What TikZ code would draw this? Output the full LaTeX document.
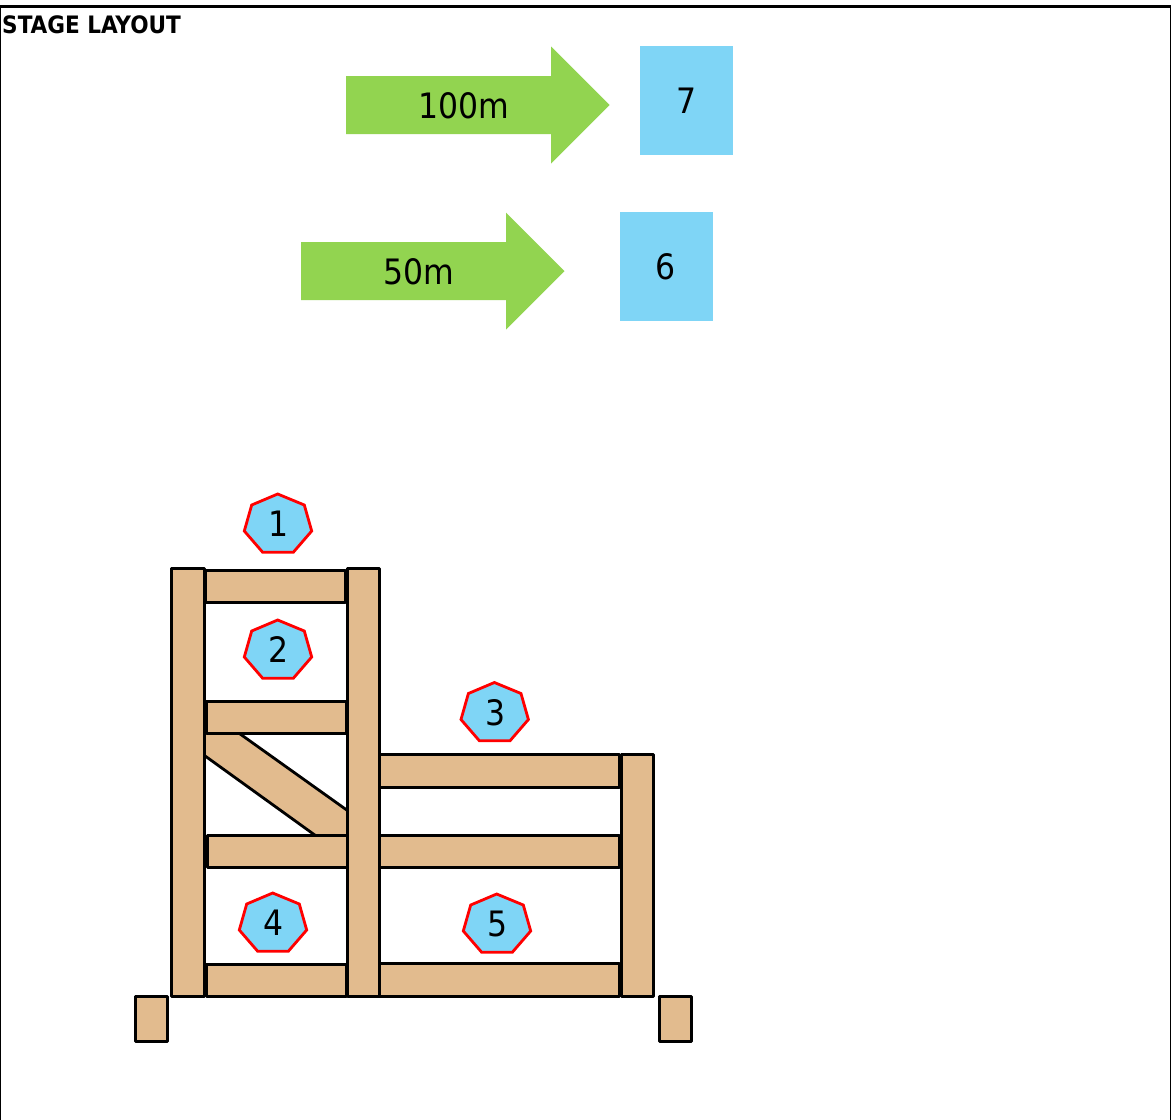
\documentclass[tikz,border=0pt]{standalone}
\usepackage{fontspec}
\setmainfont{DejaVu Sans Condensed}
\definecolor{tan1}{HTML}{E2BB8E}
\definecolor{sky1}{HTML}{7FD5F6}
\definecolor{green1}{HTML}{92D450}
\tikzset{
  timber/.style={draw=black,fill=tan1,line width=3pt,line join=round},
  arrowbody/.style={fill=green1},
  septagon/.style={draw=red,fill=sky1,line width=2.8pt,line join=miter},
  lbl/.style={font=\fontsize{35}{38}\selectfont,text=black,inner sep=0pt}
}
\newcommand{\hepta}[4]{% name, x, y of top vertex, text
  \draw[septagon] (#2,#3) -- ++(26.6,11) -- ++(7.4,26) -- ++(-18.4,21.3) -- ++(-30.6,0) -- ++(-18.4,-21.3) -- ++(7.4,-26) -- cycle;
  \node[lbl] (#1) at (#2+0.7,#3+30) {#4};
}
\newcommand{\greenarrow}[4]{% name, x, y of shaft top-left, text
  \fill[arrowbody] (#2,#3) -- ++(205,0) -- ++(0,-29.5) -- ++(58.5,58.5) -- ++(-58.5,58.5) -- ++(0,-29.5) -- ++(-205,0) -- cycle;
  \node[lbl] (#1) at (#2+117.5,#3+30) {#4};
}
\begin{document}
\begin{tikzpicture}[x=1pt,y=-1pt]
\useasboundingbox (0,0) rectangle (1171,1120);
\fill[white] (0,0) rectangle (1171,1120);
\coordinate (tl) at (0.5,6.5);
\coordinate (tr) at (1171,6.5);
\coordinate (bl) at (0.5,1120);
\coordinate (br) at (1170.5,1120);
\draw[line width=3pt] (0,6.5) -- (tr);
\draw[line width=1.5pt] (tl) -- (bl);
\draw[line width=1.5pt] (1170.5,6.5) -- (br);
\node[anchor=west,inner sep=0pt,font=\bfseries\fontsize{24}{26}\selectfont] (title) at (2,24.5) {STAGE LAYOUT};
\greenarrow{a100}{346}{76}{100m}
\greenarrow{a50}{301}{242}{50m}
\fill[sky1] (640,46) rectangle (733,155);
\node[lbl] (n7) at (686.3,101) {7};
\fill[sky1] (620,212) rectangle (713,321);
\node[lbl] (n6) at (666,267) {6};
\begin{scope}[shift={(-0.4,-0.4)}]
% diagonal brace
\fill[tan1] (205,734) -- (240,734) -- (348,811) -- (348,836) -- (316,836) -- (205,756) -- cycle;
\draw[line width=2.8pt] (240,734) -- (348,811);
\draw[line width=2.8pt] (205,756) -- (316,836);
% rungs
\draw[timber] (206,570.5) rectangle (345.5,603);
\draw[timber] (207,702) rectangle (346.5,734);
\draw[timber] (208,836) rectangle (348,868);
\draw[timber] (207,965) rectangle (346.5,997);
\draw[timber] (380,755) rectangle (620,788);
\draw[timber] (380,836) rectangle (620,868);
\draw[timber] (380,964) rectangle (620,997);
% posts
\draw[timber] (172,569) rectangle (205,997);
\draw[timber] (348,569) rectangle (380,997);
\draw[timber] (622,755) rectangle (654,997);
% feet
\draw[timber] (135.5,997) rectangle (167.5,1042);
\draw[timber] (659.5,997) rectangle (691.5,1042);
\end{scope}
% markers
\hepta{n1}{277.7}{494}{1}
\hepta{n2}{277.7}{620}{2}
\hepta{n3}{494.4}{682.5}{3}
\hepta{n4}{272.7}{893}{4}
\hepta{n5}{496.7}{894}{5}
\end{tikzpicture}
\end{document}
